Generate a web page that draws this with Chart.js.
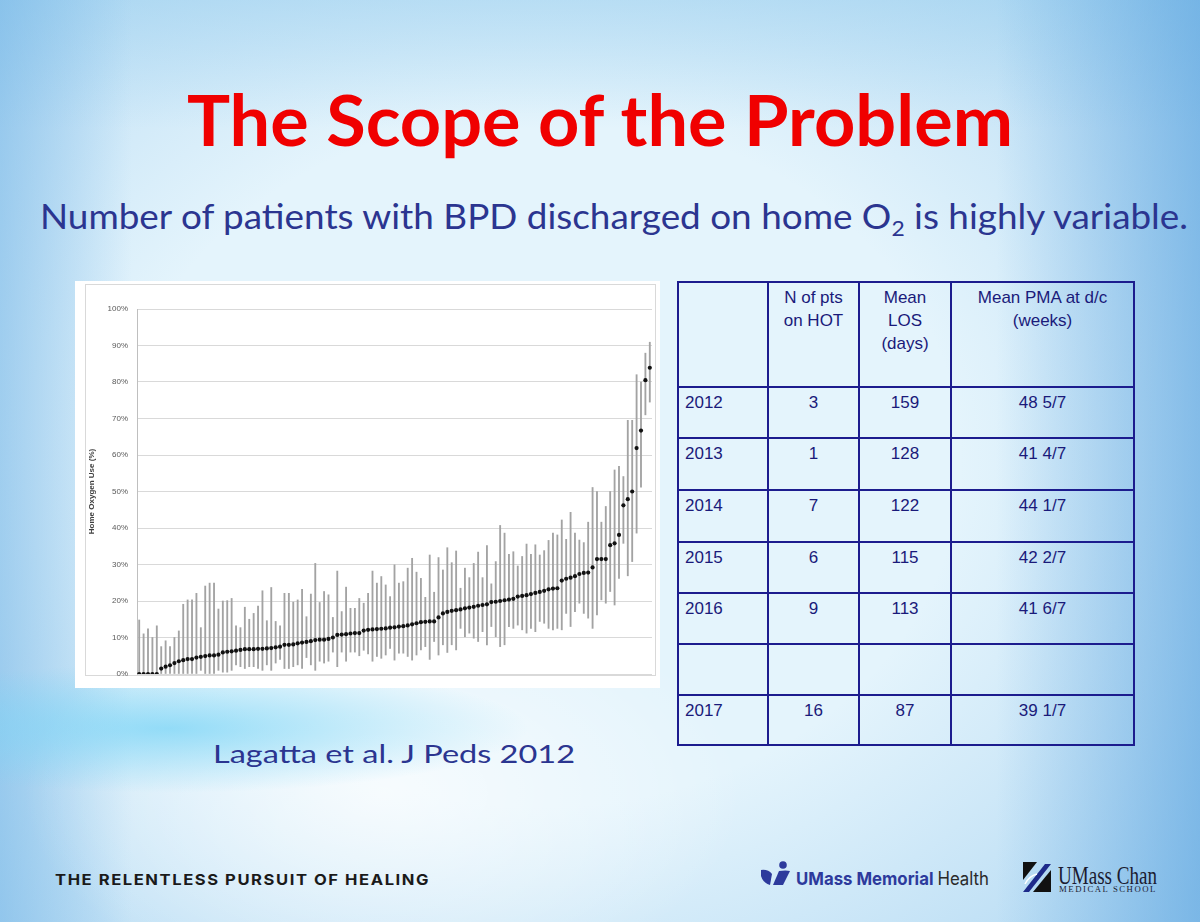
<!DOCTYPE html>
<html>
<head>
<meta charset="utf-8">
<script src="https://cdn.jsdelivr.net/npm/chart.js@4.4.1/dist/chart.umd.min.js"></script>
<style>
  html, body { margin: 0; padding: 0; }
  body {
    width: 1200px; height: 922px; position: relative; overflow: hidden;
    background:
      radial-gradient(ellipse 30% 7% at 14% 79%, rgba(120,212,246,0.75), rgba(120,212,246,0) 100%),
      radial-gradient(ellipse 30% 22% at 32% 86%, rgba(255,255,255,0.7), rgba(255,255,255,0) 100%),
      linear-gradient(to right, rgba(105,175,228,0.5) 0%, rgba(105,175,228,0) 11%),
      linear-gradient(to left, rgba(85,160,222,0.6) 0%, rgba(85,160,222,0) 17%),
      linear-gradient(to bottom, rgba(150,205,238,0.45) 0%, rgba(150,205,238,0) 14%),
      radial-gradient(ellipse 70% 75% at 45% 50%, rgba(120,185,232,0) 50%, rgba(120,185,232,0.45) 100%),
      #e4f4fc;
  }
  .txt { position: absolute; white-space: nowrap; display: inline-block; transform-origin: 0 0; line-height: 1; }
  #title { left: 187px; top: 77px; font: 700 70px Lato, sans-serif; color: #f00000; }
  #subtitle { left: 40px; top: 194px; font: 400 35px Lato, sans-serif; color: #2b3590; }
  #subtitle .sub { font-size: 0.62em; position: relative; top: 0.32em; }
  #cite { left: 213px; top: 738px; font: 400 25px Lato, sans-serif; color: #2b3590; }
  #tagline { left: 55px; top: 870px; font: 700 15px Inter, sans-serif; color: #1a1a1a; letter-spacing: 1.4px; }
  #umm { left: 796px; top: 868px; font: 700 18px Inter, sans-serif; color: #2d3a9c; }
  #umm span { font-weight: 400; color: #2a2a2a; }
  #chanName { left: 1058px; top: 862px; font: 400 25px "Liberation Serif", serif; color: #1b1b30; }
  #chanSub { left: 1059px; top: 884px; font: 400 9px "Liberation Serif", serif; color: #1b1b30; letter-spacing: 1.6px; }

  #chartBox { position: absolute; left: 75px; top: 281px; width: 585px; height: 407px; background: #fff; }
  #chartFrame { position: absolute; left: 10px; top: 3px; width: 571px; height: 392px; border: 1px solid #d9d9d9; box-sizing: border-box; }
  #chart { position: absolute; left: 0; top: 0; }

  #tbl { position: absolute; left: 677px; top: 281px; border-collapse: collapse; table-layout: fixed; }
  #tbl td { border: 2px solid #1c1c8e; font: 400 17px "Liberation Sans", Arial, sans-serif; color: #1a1a7a;
            line-height: 23px; vertical-align: top; padding: 3px 4px 0 4px; text-align: center; box-sizing: border-box; }
  #tbl td.yr { text-align: left; padding-left: 6px; }
</style>
</head>
<body>
<div id="title" class="txt">The Scope of the Problem</div>
<div id="subtitle" class="txt">Number of patients with BPD discharged on home O<span class="sub">2</span> is highly variable.</div>

<div id="chartBox">
  <div id="chartFrame"></div>
  <canvas id="chart" width="585" height="407"></canvas>
</div>

<table id="tbl">
  <colgroup><col style="width:90px"><col style="width:91px"><col style="width:92px"><col style="width:183px"></colgroup>
  <tbody id="tblBody"></tbody>
</table>

<div id="cite" class="txt">Lagatta et al. J Peds 2012</div>

<div id="tagline" class="txt">THE RELENTLESS PURSUIT OF HEALING</div>

<svg style="position:absolute;left:760px;top:861px" width="32" height="26" viewBox="0 0 32 26">
  <circle cx="23" cy="4" r="3.8" fill="#2d3a9c"/>
  <path d="M1 9 Q8 8 12 13 L10 24 Q3 22 1 15 Z" fill="#2d3a9c"/>
  <path d="M13 24 L19 10 Q26 9 30 10 L23 24 Z" fill="#2d3a9c"/>
</svg>
<div id="umm" class="txt">UMass Memorial <span>Health</span></div>

<svg style="position:absolute;left:1023px;top:862px" width="28" height="30" viewBox="0 0 28 30">
  <path d="M0 0 H14 L0 18 Z" fill="#111"/>
  <path d="M0 30 L22 2 H28 L6 30 Z" fill="#1d2a8a"/>
  <path d="M10 30 L28 8 V30 Z" fill="#111"/>
  <path d="M2 22 Q6 14 14 12" stroke="#fff" stroke-width="1.5" fill="none"/>
</svg>
<div id="chanName" class="txt">UMass Chan</div>
<div id="chanSub" class="txt">MEDICAL SCHOOL</div>

<script>
// Hospitals ranked by mean home oxygen use (%), with range bars
const meanUse = [
  0, 0, 0, 0, 0, 1.5, 2.0, 2.4, 3.0, 3.5,
  3.8, 4.1, 4.1, 4.5, 4.7, 4.9, 5.1, 5.1, 5.3, 5.9,
  6.1, 6.2, 6.4, 6.6, 6.8, 6.8, 6.8, 6.9, 6.9, 7.0,
  7.1, 7.3, 7.5, 8.0, 8.0, 8.1, 8.4, 8.6, 8.8, 9.0,
  9.3, 9.4, 9.4, 9.6, 10.0, 10.7, 10.8, 10.9, 11.1, 11.2,
  11.2, 11.9, 12.1, 12.2, 12.3, 12.4, 12.5, 12.7, 12.8, 13.0,
  13.1, 13.3, 13.6, 13.9, 14.2, 14.3, 14.4, 14.4, 15.5, 16.6,
  17.0, 17.3, 17.5, 17.7, 18.0, 18.2, 18.4, 18.7, 18.9, 19.1,
  19.7, 19.8, 20.0, 20.2, 20.4, 20.6, 21.2, 21.4, 21.6, 21.9,
  22.2, 22.5, 22.8, 23.2, 23.4, 23.5, 25.6, 26.1, 26.4, 26.8,
  27.4, 27.7, 27.8, 29.2, 31.5, 31.5, 31.5, 35.3, 35.8, 38.1,
  46.2, 47.9, 50.0, 61.9, 66.7, 80.5, 83.9
];
const lowUse = [
  0, 0, 0, 0, 0, 0, 0, 0, 0, 0,
  0, 0, 0, 0, 1.0, 0, 0, 0, 1.0, 0.5,
  0.5, 1.0, 2.5, 2.0, 1.5, 2.0, 2.0, 1.5, 1.0, 2.5,
  1.0, 3.0, 4.0, 1.5, 1.5, 2.0, 2.5, 1.5, 4.5, 2.5,
  1.0, 3.5, 3.0, 3.5, 6.0, 2.0, 6.0, 3.5, 6.0, 6.0,
  5.0, 6.5, 5.5, 3.5, 4.8, 4.3, 5.2, 7.0, 3.8, 5.7,
  5.7, 4.8, 3.8, 5.2, 6.6, 7.5, 4.0, 8.9, 5.2, 8.0,
  5.9, 8.0, 6.6, 12.5, 10.2, 11.2, 9.8, 8.9, 11.6, 8.0,
  13.0, 10.2, 7.5, 8.0, 13.0, 12.5, 13.4, 12.1, 11.2, 12.5,
  11.6, 14.4, 13.9, 12.5, 12.1, 12.5, 12.1, 16.6, 13.0, 17.1,
  19.4, 16.6, 15.3, 12.5, 16.2, 20.3, 19.4, 22.6, 18.9, 26.2,
  35.8, 26.9, 30.8, 38.6, 51.2, 71.0, 74.5
];
const highUse = [
  14.8, 11.0, 12.4, 10.0, 13.2, 7.5, 9.1, 7.5, 10.0, 11.8,
  19.1, 20.3, 20.3, 22.1, 12.7, 24.1, 24.9, 24.9, 17.8, 20.0,
  20.1, 20.7, 13.2, 12.7, 18.3, 15.0, 16.6, 18.6, 22.8, 14.6,
  23.7, 14.4, 13.2, 22.1, 22.1, 19.7, 20.3, 23.2, 15.7, 21.9,
  30.3, 19.6, 22.6, 21.7, 15.5, 28.2, 17.1, 23.8, 18.0, 18.0,
  20.7, 19.4, 22.1, 28.2, 24.9, 26.7, 24.4, 21.2, 29.9, 24.9,
  25.3, 29.0, 31.7, 27.9, 26.2, 21.0, 32.6, 22.4, 31.9, 28.5,
  34.6, 30.5, 33.7, 23.5, 29.0, 26.4, 30.3, 33.4, 26.4, 35.2,
  24.7, 30.8, 40.7, 38.6, 32.8, 33.5, 29.6, 32.2, 35.6, 32.8,
  35.4, 32.6, 33.8, 36.6, 38.6, 38.1, 42.2, 36.9, 44.3, 38.6,
  36.7, 36.0, 41.6, 51.1, 50.0, 41.6, 45.9, 50.0, 55.9, 56.9,
  54.1, 69.5, 69.5, 82.0, 80.0, 87.9, 90.9
];
const hospitals = meanUse.map((v, i) => String(i + 1));

// table on the right
const tableHead = ['', 'N of pts<br>on HOT', 'Mean<br>LOS<br>(days)', 'Mean PMA at d/c<br>(weeks)'];
const years = ['2012', '2013', '2014', '2015', '2016', '', '2017'];
const ptsOnHot = ['3', '1', '7', '6', '9', '', '16'];
const meanLos = ['159', '128', '122', '115', '113', '', '87'];
const meanPma = ['48 5/7', '41 4/7', '44 1/7', '42 2/7', '41 6/7', '', '39 1/7'];
const rowHeights = [105, 51, 52, 52, 51, 51, 51, 50];

const body = document.getElementById('tblBody');
let html = '<tr style="height:' + rowHeights[0] + 'px">' + tableHead.map(h => '<td>' + h + '</td>').join('') + '</tr>';
years.forEach((y, i) => {
  html += '<tr style="height:' + rowHeights[i + 1] + 'px"><td class="yr">' + y + '</td><td>' + ptsOnHot[i] +
          '</td><td>' + meanLos[i] + '</td><td>' + meanPma[i] + '</td></tr>';
});
body.innerHTML = html;

new Chart(document.getElementById('chart'), {
  type: 'bar',
  data: {
    labels: hospitals,
    datasets: [
      {
        label: 'Range',
        data: highUse.map((h, i) => [lowUse[i], h]),
        backgroundColor: '#a3a3a3',
        barThickness: 1.2,
        order: 2
      },
      {
        type: 'line',
        label: 'Mean',
        data: meanUse,
        showLine: false,
        pointRadius: 2.1,
        pointBackgroundColor: '#111',
        pointBorderWidth: 0,
        order: 1
      }
    ]
  },
  options: {
    responsive: false,
    animation: false,
    layout: { padding: { left: 12, top: 28, right: 8, bottom: 14 } },
    plugins: { legend: { display: false }, tooltip: { enabled: false } },
    scales: {
      x: {
        grid: { display: false },
        ticks: { display: false },
        border: { display: false },
        afterFit: s => { s.height = 0; }
      },
      y: {
        min: 0, max: 100,
        ticks: {
          stepSize: 10,
          callback: v => v + '%',
          font: { family: 'Liberation Sans', size: 8 },
          color: '#595959',
          padding: 9
        },
        grid: { color: '#d9d9d9', drawTicks: false },
        border: { color: '#bfbfbf' },
        title: {
          display: true,
          text: 'Home Oxygen Use (%)',
          font: { family: 'Liberation Sans', size: 8, weight: 'bold' },
          color: '#404040',
          padding: 0
        },
        afterFit: s => { s.width = 50; }
      }
    }
  }
});

// fit slide texts to the widths they take in the slide
function fitWidth(id, w) {
  const el = document.getElementById(id);
  el.style.transform = 'none';
  const r = el.getBoundingClientRect().width;
  el.style.transform = 'scaleX(' + (w / r) + ')';
}
function fitAll() {
  fitWidth('title', 826);
  fitWidth('subtitle', 1148);
  fitWidth('cite', 362);
  fitWidth('tagline', 375);
  fitWidth('umm', 193);
  fitWidth('chanName', 99);
  fitWidth('chanSub', 98);
}
fitAll();
if (document.fonts) document.fonts.ready.then(fitAll);
</script>
</body>
</html>
